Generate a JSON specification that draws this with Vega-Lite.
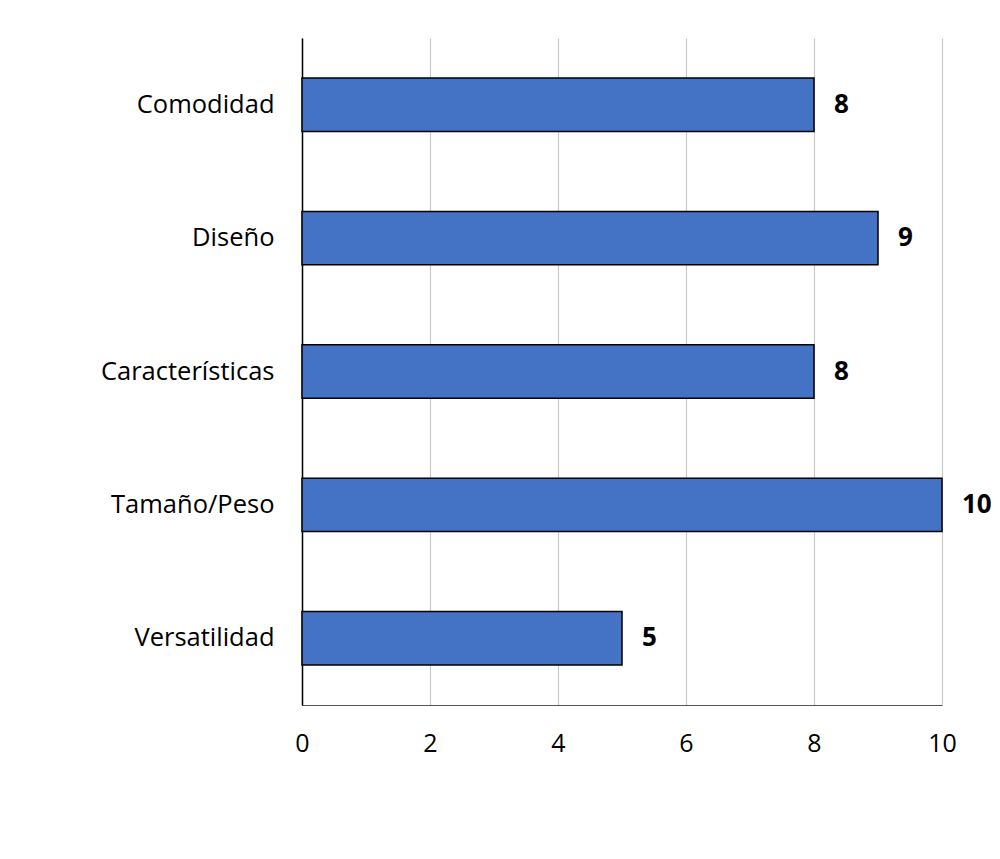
{
  "$schema": "https://vega.github.io/schema/vega-lite/v6.json",
  "width": 640,
  "height": 667,
  "autosize": {"type": "none"},
  "padding": {"left": 302, "top": 38, "right": 58, "bottom": 154},
  "background": "white",
  "config": {"view": {"stroke": null}, "font": "Open Sans"},
  "data": {"values": [
    {"cat": "Comodidad", "v": 8},
    {"cat": "Diseño", "v": 9},
    {"cat": "Características", "v": 8},
    {"cat": "Tamaño/Peso", "v": 10},
    {"cat": "Versatilidad", "v": 5}
  ]},
  "encoding": {
    "y": {"field": "cat", "type": "nominal", "sort": null,
      "scale": {"paddingInner": 0.6, "paddingOuter": 0.3},
      "axis": {"title": null, "ticks": false, "domainColor": "black", "domainWidth": 1.5,
        "labelFontSize": 25.5, "labelColor": "black", "labelPadding": 28, "labelFont": "Open Sans"}},
    "x": {"field": "v", "type": "quantitative",
      "scale": {"domain": [0, 10], "nice": false},
      "axis": {"title": null, "values": [0, 2, 4, 6, 8, 10], "grid": true, "gridColor": "#c9c9c9", "gridWidth": 1.2,
        "ticks": false, "domainColor": "#555555", "domainWidth": 1.2,
        "labelFontSize": 25, "labelColor": "black", "labelPadding": 26, "labelFont": "Open Sans", "labelFlush": false}}
  },
  "layer": [
    {"mark": {"type": "bar", "color": "#4472C4", "stroke": "black", "strokeWidth": 1.5}},
    {"mark": {"type": "text", "align": "left", "dx": 20, "fontSize": 26, "fontWeight": "bold", "color": "black", "font": "Open Sans"},
      "encoding": {"text": {"field": "v", "type": "quantitative"}}}
  ]
}
